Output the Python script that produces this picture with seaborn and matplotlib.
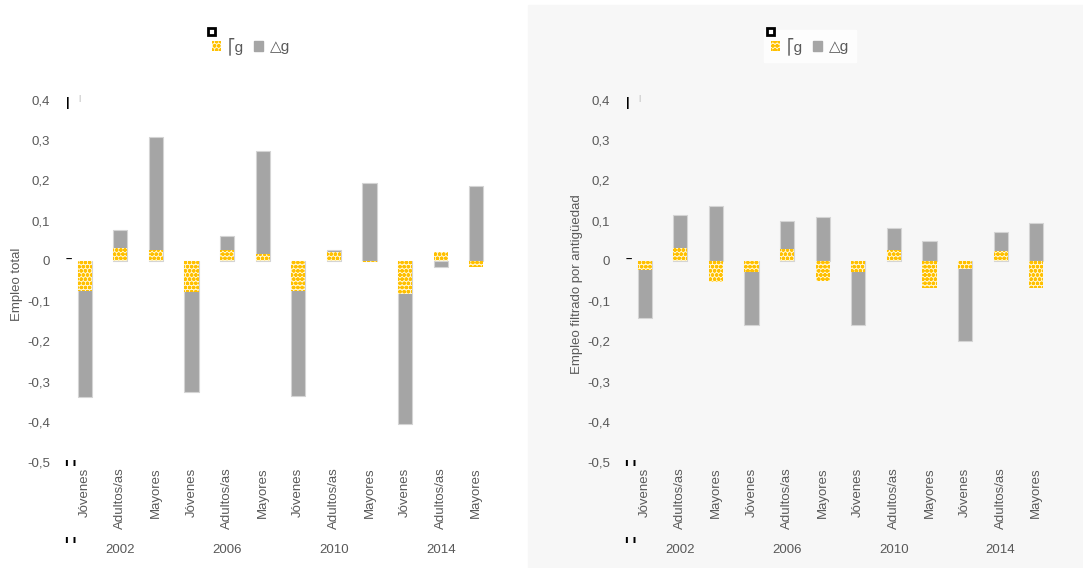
import numpy as np
import pandas as pd
import matplotlib.pyplot as plt
import seaborn as sns
from matplotlib.patches import Patch, Rectangle

# data
grupos = ['Jóvenes', 'Adultos/as', 'Mayores']
anios = ['2002', '2006', '2010', '2014']

# empleo total
total_g = [-0.076, 0.031, 0.026, -0.077, 0.028, 0.018, -0.076, 0.022, -0.003, -0.082, 0.023, -0.015]
total_d = [-0.263, 0.046, 0.282, -0.249, 0.035, 0.255, -0.261, 0.004, 0.194, -0.323, -0.016, 0.187]

# empleo filtrado por antigüedad
filt_g = [-0.023, 0.031, -0.053, -0.028, 0.030, -0.050, -0.028, 0.026, -0.067, -0.021, 0.024, -0.068]
filt_d = [-0.119, 0.084, 0.137, -0.131, 0.070, 0.108, -0.132, 0.055, 0.050, -0.177, 0.048, 0.094]

ylabels = ['Empleo total', 'Empleo filtrado por antigüedad']
yticks = [0.4, 0.3, 0.2, 0.1, 0, -0.1, -0.2, -0.3, -0.4, -0.5]

AMARILLO = '#FFC000'
GRIS = '#A5A5A5'
TXT = '#595959'

sns.set_theme(style='white')
plt.rcParams['font.family'] = ['Liberation Sans', 'DejaVu Sans']
plt.rcParams['hatch.linewidth'] = 1.2

fig = plt.figure(figsize=(10.83, 5.68), dpi=100)
fig.patches.append(Rectangle((528 / 1083, 0), 1 - 528 / 1083, 563 / 568,
                             transform=fig.transFigure, color='#f7f7f7', zorder=-10))

ax1 = fig.add_axes([67 / 1083, 106 / 568, 427 / 1083, 362 / 568])
ax2 = fig.add_axes([627 / 1083, 106 / 568, 427 / 1083, 362 / 568])


def fmt(v):
    if v == 0:
        return '0'
    return ('%.1f' % v).replace('.', ',')


for ax, g, d, lab in [(ax1, total_g, total_d, ylabels[0]), (ax2, filt_g, filt_d, ylabels[1])]:
    ax.set_facecolor('none')
    df = pd.DataFrame({'pos': range(12), 'g': g, 'd': d})
    # gray stacks on top of yellow only when both have the same sign
    df['top'] = np.where(np.sign(df['g']) == np.sign(df['d']), df['g'] + df['d'], df['d'])
    sns.barplot(data=df, x='pos', y='top', color=GRIS, saturation=1, width=0.4,
                edgecolor='#d4d4d4', linewidth=0.8, ax=ax)
    sns.barplot(data=df, x='pos', y='g', color='#fff6d0', saturation=1, width=0.4,
                edgecolor=AMARILLO, hatch='oooo', linewidth=0, ax=ax)
    ax.set_ylim(-0.5, 0.4)
    ax.set_xlim(-0.5, 11.5)
    ax.set_yticks(yticks)
    ax.set_yticklabels([fmt(v) for v in yticks], color=TXT, fontsize=9.5)
    ax.set_xticks(range(12))
    ax.set_xticklabels(grupos * 4, rotation=90, color=TXT, fontsize=9.5, va='top')
    ax.tick_params(axis='both', length=0, pad=12)
    ax.tick_params(axis='x', pad=4)
    ax.set_xlabel('')
    ax.set_ylabel(lab, color=TXT, fontsize=9.5)
    ax.yaxis.set_label_coords(-0.103, 0.49)
    for s in ax.spines.values():
        s.set_visible(False)
    for i, a in enumerate(anios):
        ax.text(3 * i + 1, -0.243, a, transform=ax.get_xaxis_transform(),
                ha='center', va='center', color=TXT, fontsize=9.5)

    # little stray marks next to the axis
    tr = ax.transAxes
    ax.text(0.002, 0.992, '|', transform=tr, ha='center', va='center', fontsize=9,
            fontweight='bold', color='black', clip_on=False)
    ax.text(0.03, 1.003, '|', transform=tr, ha='center', va='center', fontsize=6,
            fontweight='bold', color='#cccccc', clip_on=False)
    ax.text(0.005, 0.557, '–', transform=tr, ha='center', va='center', fontsize=8,
            fontweight='bold', color='black', clip_on=False)
    for yy in [-0.003, -0.215]:
        ax.text(0.008, yy, 'ı ı', transform=tr, ha='center', va='center', fontsize=8,
                fontweight='bold', color='black', clip_on=False, family='DejaVu Sans')

handles = [Patch(facecolor='#fff6d0', edgecolor=AMARILLO, hatch='oooo', linewidth=0),
           Patch(facecolor=GRIS, edgecolor=GRIS)]
labels = ['⎡g', '△g']
for xc in [251 / 1083, 810 / 1083]:
    fig.legend(handles, labels, loc='center', bbox_to_anchor=(xc, 1 - 46 / 568), ncol=2,
               frameon=True, facecolor='white', edgecolor='white', fancybox=False,
               fontsize=11, labelcolor=TXT, handlelength=0.6, handleheight=0.6,
               handletextpad=0.4, columnspacing=0.7, borderpad=0.45)
    fig.patches.append(Rectangle(((xc * 1083 - 43) / 1083, 1 - 35 / 568), 7 / 1083, 7 / 568,
                                 transform=fig.transFigure, facecolor='white',
                                 edgecolor='black', linewidth=2, zorder=10))

fig.savefig('out.png', dpi=100)
